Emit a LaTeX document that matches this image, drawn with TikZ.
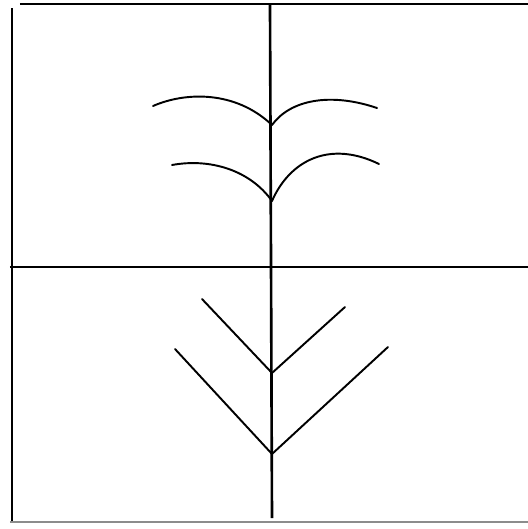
\documentclass[tikz,border=0pt]{standalone}
\usepackage{tikz}

\begin{document}
\begin{tikzpicture}[x=0.02cm, y=-0.02cm,
  frame/.style={line width=1.6pt, black},
  stem/.style={line width=1.5pt, black},
  branch/.style={line width=1.1pt, black, line cap=round}]

% Bounding box (pixel-like units, y downwards)
\useasboundingbox (0,0) rectangle (528,529);

% Frame lines
\draw[frame] (20,4) -- (528,4);
\draw[frame] (12,8) -- (12,521);
\draw[line width=1.2pt, black!45] (10,522) -- (528,522);
\draw[frame] (10,267) -- (528,267);

% Junction points on the stem
\coordinate (top) at (270,4);
\coordinate (bottom) at (272,518);
\coordinate (archA) at (272,125);
\coordinate (archB) at (272,201);
\coordinate (veeA) at (272,373);
\coordinate (veeB) at (272,454);

% Stem
\draw[stem] (top) -- (bottom);

% Curved branches (upper half)
\draw[branch] (153,106) .. controls (185,92) and (235,90) .. (archA);
\draw[branch] (archA) .. controls (290,100) and (330,92) .. (377,108);
\draw[branch] (172,165) .. controls (210,158) and (250,170) .. (archB);
\draw[branch] (archB) .. controls (290,160) and (330,140) .. (379,164);

% Straight branches (lower half)
\draw[branch] (202,299) -- (veeA) -- (345,307);
\draw[branch] (175,349) -- (veeB) -- (388,347);

\end{tikzpicture}
\end{document}
